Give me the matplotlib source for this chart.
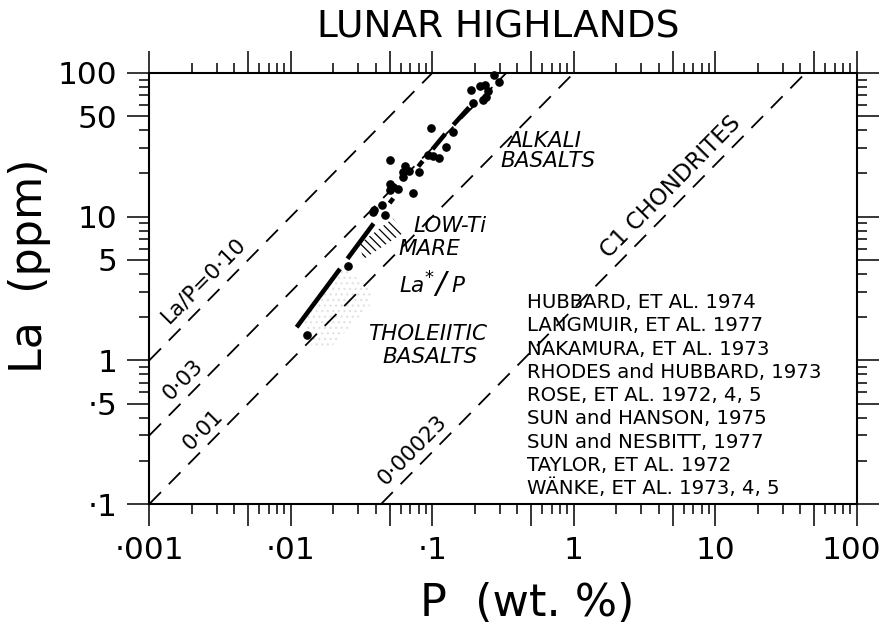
import numpy as np
import matplotlib
matplotlib.use("Agg")
import matplotlib.pyplot as plt
import matplotlib.transforms as mtransforms
from matplotlib.patches import Polygon
from matplotlib.ticker import FixedLocator, NullFormatter, FixedFormatter

plt.rcParams['font.family'] = ['DejaVu Sans']
plt.rcParams['lines.scale_dashes'] = False
plt.rcParams['hatch.linewidth'] = 0.9

W, H, DPI = 884, 628, 100

# Highland samples: phosphorus (wt.%) and lanthanum (ppm)
p_wt = [0.274, 0.297, 0.188, 0.217, 0.236, 0.249, 0.240, 0.229, 0.193,
        0.141, 0.098, 0.125, 0.094, 0.102, 0.112, 0.050, 0.064, 0.062,
        0.068, 0.081, 0.062, 0.050, 0.053, 0.0575, 0.050, 0.073, 0.044,
        0.039, 0.038, 0.046, 0.0255, 0.0130]
la_ppm = [96.8, 86.1, 76.4, 81.5, 82.5, 74.9, 68.3, 64.8, 62.0,
          38.9, 41.1, 30.6, 26.8, 26.4, 25.8, 24.7, 22.4, 20.5,
          20.8, 20.3, 18.9, 16.8, 16.1, 15.7, 15.3, 14.6, 12.1,
          11.1, 10.8, 10.2, 4.52, 1.51]

# La*/P trend through the highland rocks
trend_p = [0.011, 0.0223, 0.0383, 0.053, 0.083, 0.123, 0.182]
trend_la = [1.70, 4.34, 8.9, 13.4, 23.5, 37.5, 57.6]
# on/off lengths (pixels) of the broken trend line
trend_dashes_px = [72.7, 12.6, 43.8, 26, 6, 40.5, 7, 15.4, 19.8, 12.3, 23.7, 300]

# constant La/P ratio lines (La ppm / P ppm)
ratio_values = [0.10, 0.03, 0.01, 0.00023]
ratio_labels = ["La/P=0·10", "0·03", "0·01", "0·00023"]
ratio_label_px = [(204, 280), (183, 380), (203, 430), (412, 450)]

# low-Ti mare basalt field (hatched) and tholeiitic basalt field (stippled)
mare_p = [0.0308, 0.0527, 0.0631, 0.0324]
mare_la = [6.51, 9.73, 7.77, 5.04]
thol_p = [0.0122, 0.0234, 0.0375, 0.0363, 0.0189, 0.0141]
thol_la = [1.95, 4.50, 3.06, 2.41, 1.21, 1.26]

x_tick_values = [0.001, 0.01, 0.1, 1, 10, 100]
x_tick_labels = ["·001", "·01", "·1", "1", "10", "100"]
y_tick_values = [0.1, 0.5, 1, 5, 10, 50, 100]
y_tick_labels = ["·1", "·5", "1", "5", "10", "50", "100"]

references = [
    "HUBBARD, ET AL. 1974",
    "LANGMUIR, ET AL. 1977",
    "NAKAMURA, ET AL. 1973",
    "RHODES and HUBBARD, 1973",
    "ROSE, ET AL. 1972, 4, 5",
    "SUN and HANSON, 1975",
    "SUN and NESBITT, 1977",
    "TAYLOR, ET AL. 1972",
    "WÄNKE, ET AL. 1973, 4, 5",
]

fig = plt.figure(figsize=(W / DPI, H / DPI), dpi=DPI)


def fpos(x, y):
    """pixel position (from top-left) -> figure fraction"""
    return x / W, 1 - y / H


left, top, right, bottom = 149.3, 73.0, 856.7, 504.0
ax = fig.add_axes([left / W, 1 - bottom / H, (right - left) / W, (bottom - top) / H])
ax.set_xscale('log')
ax.set_yscale('log')
xmin, xmax, ymin, ymax = 0.001, 100, 0.1, 100
ax.set_xlim(xmin, xmax)
ax.set_ylim(ymin, ymax)

for s in ax.spines.values():
    s.set_linewidth(1.5)


def decades(lo, hi, mults):
    out = []
    e = int(np.floor(np.log10(lo)))
    while 10.0 ** e <= hi:
        for m in mults:
            v = m * 10.0 ** e
            if lo * 0.999 <= v <= hi * 1.001:
                out.append(v)
        e += 1
    return out


x_major = sorted(x_tick_values + decades(xmin, xmax, [5]))
x_lab = [x_tick_labels[x_tick_values.index(v)] if v in x_tick_values else "" for v in x_major]
ax.xaxis.set_major_locator(FixedLocator(x_major))
ax.xaxis.set_major_formatter(FixedFormatter(x_lab))
ax.xaxis.set_minor_locator(FixedLocator(decades(xmin, xmax, [2, 3, 4, 6, 7, 8, 9])))
ax.xaxis.set_minor_formatter(NullFormatter())

ax.yaxis.set_major_locator(FixedLocator(y_tick_values))
ax.yaxis.set_major_formatter(FixedFormatter(y_tick_labels))
ax.yaxis.set_minor_locator(FixedLocator(decades(ymin, ymax, [2, 3, 4, 6, 7, 8, 9])))
ax.yaxis.set_minor_formatter(NullFormatter())

ax.tick_params(which='both', direction='out', top=True, right=True,
               labeltop=False, labelright=False, width=1.1, color='black')
ax.tick_params(which='major', length=16, labelsize=22.5, pad=7)
ax.tick_params(which='minor', length=7)

# keep the rightmost x label inside the canvas
last_tick = ax.xaxis.get_major_ticks()[-1]
last_tick.label1.set_transform(last_tick.label1.get_transform() +
                               mtransforms.Affine2D().translate(-5, 0))

# ratio lines: La(ppm) = ratio * P(wt.%) * 1e4
for r in ratio_values:
    k = r * 1e4
    p0 = max(xmin, ymin / k)
    p1 = min(xmax, ymax / k)
    pp = np.array([p0, p1])
    ax.plot(pp, k * pp, color='black', lw=1.3, linestyle=(0, (12, 8)),
            dash_capstyle='butt', zorder=2)


def line_angle(k):
    a = ax.transData.transform((0.01, k * 0.01))
    b = ax.transData.transform((1.0, k * 1.0))
    return np.degrees(np.arctan2(b[1] - a[1], b[0] - a[0]))


ang = line_angle(1e4 * ratio_values[0])
for lab, (px, py) in zip(ratio_labels, ratio_label_px):
    fig.text(*fpos(px, py), lab, rotation=ang, ha='center', va='center',
             fontsize=15.5, rotation_mode='anchor')
fig.text(*fpos(671, 187), "C1 CHONDRITES", rotation=ang, ha='center',
         va='center', fontsize=16.5, rotation_mode='anchor')

# shaded basalt fields
ax.add_patch(Polygon(list(zip(mare_p, mare_la)), closed=True, facecolor='none',
                     edgecolor='black', linewidth=0, hatch='\\\\\\\\', zorder=1))
ax.add_patch(Polygon(list(zip(thol_p, thol_la)), closed=True, facecolor='none',
                     edgecolor='#e2e2e2', linewidth=0, hatch='...', zorder=1))

# La*/P trend
tline, = ax.plot(trend_p, trend_la, color='black', lw=3.3, solid_capstyle='butt',
                 zorder=3)
tline.set_dashes([d * 72.0 / DPI for d in trend_dashes_px])
tline.set_dash_capstyle('butt')

# sample points
ax.plot(p_wt, la_ppm, 'o', color='black', ms=5.2, mec='black', zorder=4,
        clip_on=False)

# field annotations
it = dict(fontsize=15.5, style='italic', ha='left', va='baseline')
fig.text(*fpos(507, 147), "ALKALI", **it)
fig.text(*fpos(500, 167), "BASALTS", **it)
fig.text(*fpos(413, 232), "LOW-Ti", **it)
fig.text(*fpos(398, 255), "MARE", **it)
fig.text(*fpos(399, 292), "La", **it)
fig.text(*fpos(424, 283), "*", fontsize=13, ha='left', va='baseline')
fig.text(*fpos(440, 284), "/", fontsize=22, style='italic', ha='center', va='center')
fig.text(*fpos(451, 292), "P", **it)
fig.text(*fpos(368, 340), "THOLEIITIC", **it)
fig.text(*fpos(382, 363), "BASALTS", **it)

for i, ref in enumerate(references):
    fig.text(*fpos(527, 308 + i * 23.3), ref, fontsize=14.2, ha='left', va='baseline')

fig.text(*fpos(498, 27), "LUNAR HIGHLANDS", fontsize=27, ha='center', va='center')
fig.text(*fpos(527, 603), "P  (wt. %)", fontsize=32, ha='center', va='center')
fig.text(*fpos(30, 266), "La  (ppm)", fontsize=32, ha='center', va='center',
         rotation=90)

fig.savefig("out.png", dpi=DPI, facecolor='white')
